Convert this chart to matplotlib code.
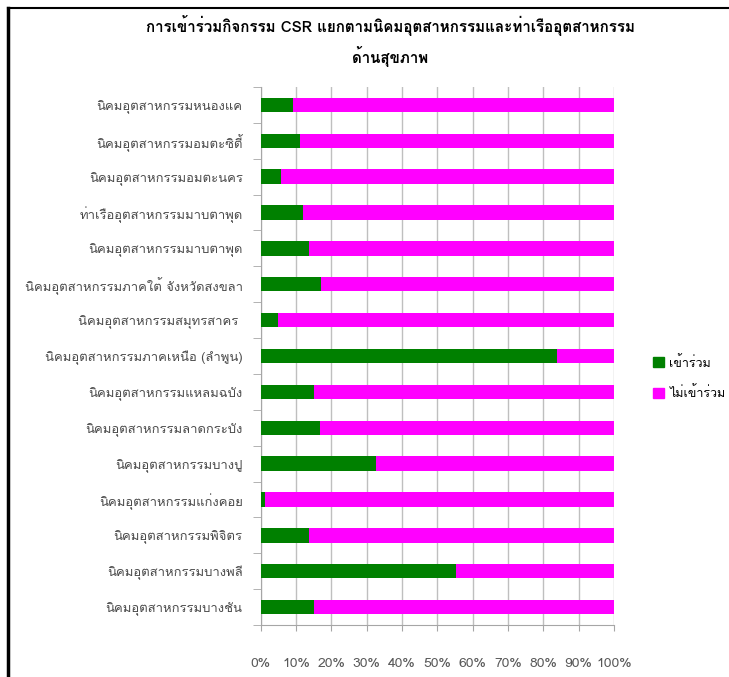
import matplotlib
matplotlib.use("Agg")
import matplotlib.pyplot as plt
from matplotlib import font_manager
from matplotlib.ft2font import FT2Font
from matplotlib.lines import Line2D
from matplotlib.patches import Patch

# ข้อมูลของกราฟ (เรียงจากบนลงล่าง)
categories = [
    "นิคมอุตสาหกรรมหนองแค",
    "นิคมอุตสาหกรรมอมตะซิตี้",
    "นิคมอุตสาหกรรมอมตะนคร",
    "ท่าเรืออุตสาหกรรมมาบตาพุด",
    "นิคมอุตสาหกรรมมาบตาพุด",
    "นิคมอุตสาหกรรมภาคใต้ จังหวัดสงขลา",
    "นิคมอุตสาหกรรมสมุทรสาคร ",
    "นิคมอุตสาหกรรมภาคเหนือ (ลำพูน)",
    "นิคมอุตสาหกรรมแหลมฉบัง",
    "นิคมอุตสาหกรรมลาดกระบัง",
    "นิคมอุตสาหกรรมบางปู",
    "นิคมอุตสาหกรรมแก่งคอย",
    "นิคมอุตสาหกรรมพิจิตร",
    "นิคมอุตสาหกรรมบางพลี",
    "นิคมอุตสาหกรรมบางชัน",
]
joined = [9.1, 11.1, 5.7, 12.0, 13.6, 17.1, 4.9, 83.9, 15.0, 16.9, 32.6, 1.1, 13.7, 55.4, 15.0]
not_joined = [100 - v for v in joined]
series_names = ["เข้าร่วม", "ไม่เข้าร่วม"]
x_ticks = list(range(0, 101, 10))
title = "การเข้าร่วมกิจกรรม CSR แยกตามนิคมอุตสาหกรรมและท่าเรืออุตสาหกรรม\nด้านสุขภาพ"


# หาฟอนต์ที่มีอักษรไทย
def find_thai_fonts():
    names = []
    for f in font_manager.fontManager.ttflist:
        try:
            cmap = FT2Font(f.fname).get_charmap()
        except Exception:
            continue
        if 0x0E01 in cmap and 0x0E49 in cmap and f.name not in names:
            names.append(f.name)
    return names


thai = find_thai_fonts()
plt.rcParams["font.family"] = thai + ["DejaVu Sans"]

fig = plt.figure(figsize=(7.29, 6.77), dpi=100)
W, H = 729, 677
ax = fig.add_axes([260.7 / W, 1 - 625 / H, (614 - 260.7) / W, (625 - 87) / H])

y = list(range(len(categories)))
ax.barh(y, joined, height=0.4, color="#008000", label=series_names[0], zorder=3)
ax.barh(y, not_joined, left=joined, height=0.4, color="#FF00FF", label=series_names[1], zorder=3)

ax.set_xlim(0, 100)
ax.set_ylim(len(categories) - 0.5, -0.5)
ax.set_xticks(x_ticks)
ax.set_xticklabels([f"{t}%" for t in x_ticks], color="#595959", fontsize=10)
ax.set_yticks(y)
ax.set_yticklabels(categories, color="#4a4a4a", fontsize=9.4)
ax.set_yticks([i - 0.5 for i in range(len(categories) + 1)], minor=True)
ax.tick_params(axis="y", which="major", length=0, pad=13)
ax.tick_params(axis="y", which="minor", length=6, color="#A6A6A6", direction="out")
ax.tick_params(axis="x", length=4, color="#A6A6A6", pad=20)
ax.grid(axis="x", color="#BFBFBF", linewidth=1, zorder=0)
for s in ["top", "right"]:
    ax.spines[s].set_visible(False)
for s in ["left", "bottom"]:
    ax.spines[s].set_color("#A6A6A6")

fig.text(390 / W, 1 - 41 / H, title, ha="center", va="center", fontsize=10.9,
         fontweight="bold", linespacing=1.6)

handles = [Patch(color="#008000"), Patch(color="#FF00FF")]
fig.legend(handles, series_names, loc="center left", bbox_to_anchor=(650 / W, 1 - 378 / H),
           frameon=False, fontsize=9, handlelength=0.9, handleheight=0.9,
           handletextpad=0.45, labelspacing=1.35, borderpad=0.2, borderaxespad=0)

# กรอบรอบภาพ
fig.add_artist(Line2D([8 / W, 8 / W], [0, 1 - 8 / H], color="black", linewidth=2.5))
fig.add_artist(Line2D([8 / W, 1], [1 - 8 / H, 1 - 8 / H], color="black", linewidth=1.5))

fig.savefig("out.png", dpi=100)
